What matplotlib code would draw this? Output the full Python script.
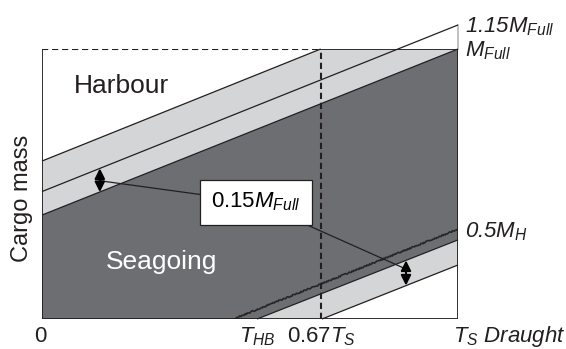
import matplotlib
matplotlib.use("Agg")
import matplotlib.pyplot as plt
from matplotlib.patches import Polygon

plt.rcParams['font.family'] = ['Liberation Sans', 'DejaVu Sans']
plt.rcParams['mathtext.fontset'] = 'custom'
plt.rcParams['mathtext.rm'] = 'Liberation Sans'
plt.rcParams['mathtext.it'] = 'Liberation Sans:italic'
plt.rcParams['mathtext.bf'] = 'Liberation Sans:bold'

# ---- data (x: fraction of T_S draught, y: fraction of M_Full) ----
T_HB = 0.46
T_067 = 0.67
line_A_x, line_A_y = [0.0, 0.67], [0.585, 1.0]     # harbour limit
line_B_x, line_B_y = [0.0, 1.0], [0.472, 1.089]    # 1.15 M_Full
line_C_x, line_C_y = [0.0, 1.0], [0.385, 1.0]      # M_Full
line_D_x, line_D_y = [0.46, 1.0], [0.0, 0.333]     # 0.5 M_H
line_E_x, line_E_y = [0.517, 1.0], [0.0, 0.293]
line_F_x, line_F_y = [0.673, 1.0], [0.0, 0.200]
arrow_up_x, arrow_up_y = 0.139, [0.558, 0.470]
arrow_lo_x, arrow_lo_y = 0.875, [0.217, 0.124]

DARK = '#6d6e71'
LIGHT = '#d4d5d7'
EDGE = '#231f20'

fig = plt.figure(figsize=(5.66, 3.49), dpi=100)
ax = fig.add_axes([42/566, 30/349, 416/566, 270/349])
ax.set_xlim(0, 1)
ax.set_ylim(0, 1)
ax.axis('off')

# fills
ax.add_patch(Polygon([(line_A_x[0], line_A_y[0]), (line_A_x[1], line_A_y[1]),
                      (1, 1), (line_C_x[1], line_C_y[1]), (line_C_x[0], line_C_y[0])],
                     closed=True, fc=LIGHT, ec='none', zorder=1))
ax.add_patch(Polygon([(0, 0), (line_C_x[0], line_C_y[0]), (line_C_x[1], line_C_y[1]),
                      (line_E_x[1], line_E_y[1]), (line_E_x[0], line_E_y[0])],
                     closed=True, fc=DARK, ec='none', zorder=1))
ax.add_patch(Polygon([(line_E_x[0], line_E_y[0]), (line_E_x[1], line_E_y[1]),
                      (line_F_x[1], line_F_y[1]), (line_F_x[0], line_F_y[0])],
                     closed=True, fc=LIGHT, ec='none', zorder=1))

lw = 0.9
for xs, ys in [(line_A_x, line_A_y), (line_B_x, line_B_y), (line_C_x, line_C_y),
               (line_E_x, line_E_y), (line_F_x, line_F_y)]:
    ax.plot(xs, ys, color=EDGE, lw=lw, zorder=3, clip_on=False, solid_capstyle='butt')

ld, = ax.plot(line_D_x, line_D_y, color='#262626', lw=1.2, zorder=3)
ld.set_sketch_params(scale=0.6, length=2.0, randomness=3.0)

# frame
ax.plot([0, 0], [0, 1], color=EDGE, lw=1.3, zorder=4)
ax.plot([0, 1], [0, 0], color=EDGE, lw=1.3, zorder=4)
ax.plot([1, 1], [0, 1], color=EDGE, lw=1.3, zorder=4)
ax.plot([1, 1], [1, line_B_y[1]], color='#bbbbbd', lw=1.3, zorder=2, clip_on=False)
ax.plot([T_067, 1], [1, 1], color=EDGE, lw=1.3, zorder=4)
ax.plot([0, T_067], [1, 1], color=EDGE, lw=1.5, ls=(0, (3.0, 1.8)), zorder=4)
ax.plot([T_067, T_067], [0, 1], color=EDGE, lw=1.5, ls=(0, (3.0, 1.8)), zorder=4)

# arrows
for ax_x, ays in [(arrow_up_x, arrow_up_y), (arrow_lo_x, arrow_lo_y)]:
    ax.annotate('', xy=(ax_x, ays[1]), xytext=(ax_x, ays[0]),
                arrowprops=dict(arrowstyle='<|-|>', color='black', lw=1.5,
                                mutation_scale=15, shrinkA=0, shrinkB=0), zorder=6)

# connectors
box_x, box_y = 0.514, 0.433
ax.plot([arrow_up_x, box_x], [0.512, box_y], color=EDGE, lw=0.9, zorder=5)
ax.plot([box_x, arrow_lo_x], [box_y, 0.185], color=EDGE, lw=0.9, zorder=5)

fs = 16
ax.text(box_x, box_y, r'0.15$M_{Full}$', fontsize=fs, ha='center', va='center', zorder=7,
        bbox=dict(boxstyle='square,pad=0.5', fc='white', ec=EDGE, lw=0.9))

ax.text(0.190, 0.862, 'Harbour', fontsize=19, ha='center', va='center', color=EDGE)
ax.text(0.288, 0.211, 'Seagoing', fontsize=19, ha='center', va='center', color='white')
ax.text(-0.048, 0.448, 'Cargo mass', fontsize=17, ha='center', va='center',
        rotation=90, color=EDGE)

yb = -0.085
ax.text(-0.005, yb, '0', fontsize=fs, ha='center', va='baseline', color=EDGE)
ax.text(0.517, yb, r'$T_{HB}$', fontsize=fs, ha='center', va='baseline', color=EDGE)
ax.text(0.673, yb, r'0.67$T_{S}$', fontsize=fs, ha='center', va='baseline', color=EDGE)
ax.text(0.988, yb, r'$T_{S}$ Draught', fontsize=fs, ha='left', va='baseline',
        style='italic', color=EDGE)

ax.text(1.017, line_B_y[1] - 0.007, r'1.15$M_{Full}$', fontsize=fs, ha='left', va='center',
        style='italic', color=EDGE)
ax.text(1.017, 0.993, r'$M_{Full}$', fontsize=fs, ha='left', va='center', color=EDGE)
ax.text(1.017, line_D_y[1] - 0.011, r'0.5$M_{H}$', fontsize=fs, ha='left',
        va='center', style='italic', color=EDGE)

fig.savefig('out.png', dpi=100)
